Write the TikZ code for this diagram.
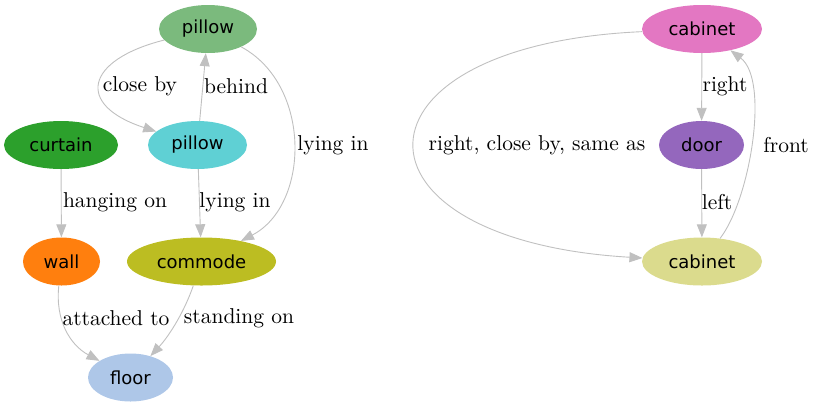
\documentclass[tikz,border=0pt]{standalone}
\usepackage{fontspec}
\usepackage{tikz}
\usetikzlibrary{shapes.geometric,arrows.meta}
\newfontfamily\nodefont{DejaVu Sans}
\newfontfamily\lblfont{lmroman10-regular}[Extension=.otf]
\definecolor{edgegray}{HTML}{C0C0C0}
\definecolor{pillowgreen}{HTML}{7BBA7D}
\definecolor{curtaingreen}{HTML}{2CA02C}
\definecolor{pillowcyan}{HTML}{5FD0D4}
\definecolor{wallorange}{HTML}{FF7F0E}
\definecolor{commodeolive}{HTML}{BCBD22}
\definecolor{floorblue}{HTML}{AEC7E8}
\definecolor{cabinetpink}{HTML}{E377C2}
\definecolor{doorpurple}{HTML}{9467BD}
\definecolor{cabinetyellow}{HTML}{DBDB8D}

\begin{document}
\begin{tikzpicture}[x=1bp,y=-1bp,
  obj/.style={ellipse,inner sep=0pt,minimum height=48bp,
    font=\nodefont\fontsize{18bp}{20bp}\selectfont},
  rel/.style={draw=edgegray,line width=0.9bp,
    -{Triangle[length=13bp,width=10bp]}},
  lbl/.style={inner sep=0pt,font=\lblfont\fontsize{21.5bp}{24bp}\selectfont},]

  \useasboundingbox (0,0) rectangle (816,407);

  % objects, left group
  \node[obj,fill=pillowgreen,minimum width=98bp] (pillowA) at (208,29) {pillow};
  \node[obj,fill=curtaingreen,minimum width=114bp] (curtain) at (61,145) {curtain};
  \node[obj,fill=pillowcyan,minimum width=99bp] (pillowB) at (197.5,145) {pillow};
  \node[obj,fill=wallorange,minimum width=77bp] (wall) at (61.5,261.5) {wall};
  \node[obj,fill=commodeolive,minimum width=149bp] (commode) at (201.5,261.5) {commode};
  \node[obj,fill=floorblue,minimum width=85bp] (floor) at (130.5,377.5) {floor};

  % objects, right group
  \node[obj,fill=cabinetpink,minimum width=120bp] (cabinetA) at (702,29) {cabinet};
  \node[obj,fill=doorpurple,minimum width=85bp] (door) at (701.5,145) {door};
  \node[obj,fill=cabinetyellow,minimum width=120bp] (cabinetB) at (702,261.5) {cabinet};

  % relations, left group
  \draw[rel] (pillowA) .. controls (85,60) and (75,105) .. (pillowB);
  \node[lbl] (closeby) at (140,86) {close by};
  \draw[rel] (pillowB) -- (pillowA);
  \node[lbl] (behind) at (236,86) {behind};
  \draw[rel] (pillowA) .. controls (312,85) and (310,205) .. (commode);
  \node[lbl] (lyinginA) at (333,145) {lying in};
  \draw[rel] (curtain) -- (wall);
  \node[lbl] (hangingon) at (115,202) {hanging on};
  \draw[rel] (pillowB) -- (commode);
  \node[lbl] (lyinginB) at (235,202) {lying in};
  \draw[rel] (wall) .. controls (55,320) and (70,345) .. (floor);
  \node[lbl] (attachedto) at (116,318) {attached to};
  \draw[rel] (commode) .. controls (185,310) and (170,335) .. (floor);
  \node[lbl] (standingon) at (239,318) {standing on};

  % relations, right group
  \draw[rel] (cabinetA) .. controls (340,45) and (337,240) .. (cabinetB);
  \node[lbl] (sameas) at (537,145) {right, close by, same as};
  \draw[rel] (cabinetA) -- (door);
  \node[lbl] (right) at (725,86) {right};
  \draw[rel] (door) -- (cabinetB);
  \node[lbl] (left) at (717,202) {left};
  \draw[rel] (cabinetB) .. controls (750,200) and (770,80) .. (cabinetA);
  \node[lbl] (front) at (786,145) {front};

\end{tikzpicture}
\end{document}
